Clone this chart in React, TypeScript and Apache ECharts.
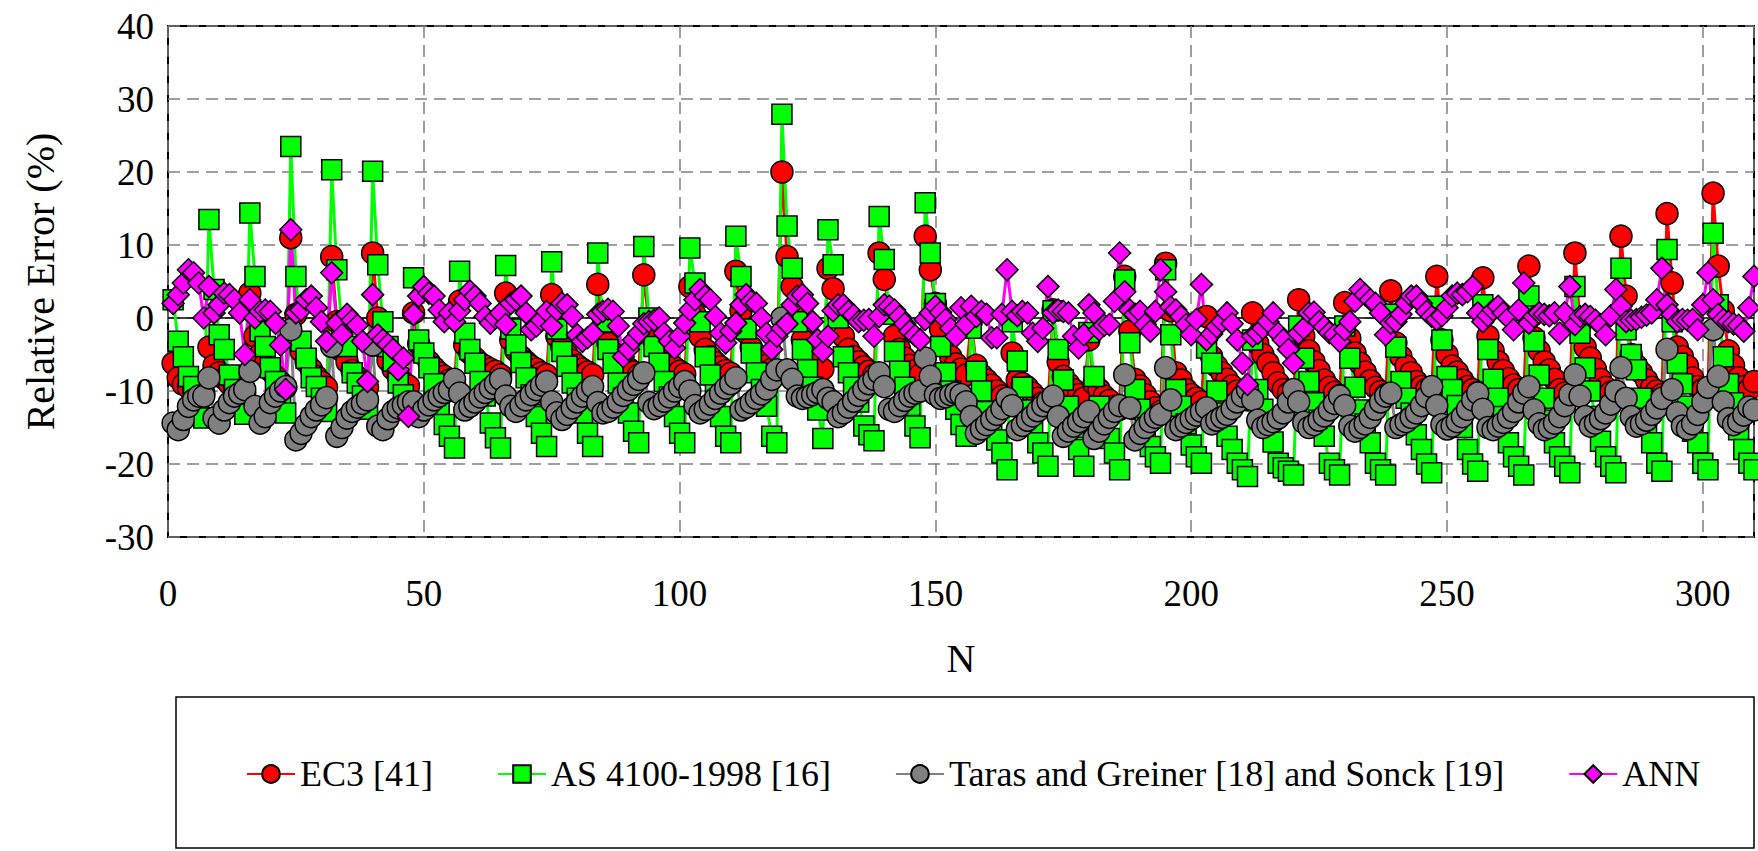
import React, { useEffect, useRef } from "react";
import * as echarts from "echarts";

// Relative error (%) per specimen N = 1..310
const ec3: number[] = [
  -6.2, -8.2, -9.1, -9.5, -9.8, -10.0, -10.3,
  -4.0, -6.5, -7.5, -8.3, -9.0, -9.5, -9.8, -10.2,
  3.4, -2.5, -5.0, -6.3, -7.2, -8.0, -8.8, -9.5,
  11.0, 0.5, -4.5, -6.0, -7.0, -8.0, -8.8, -9.5,
  8.4, -0.5, -4.5, -6.0, -7.2, -8.1, -8.8, -9.5,
  8.9, 0.0, -4.0, -5.8, -7.0, -8.0, -8.8, -9.3,
  0.7, -3.5, -5.0, -6.0, -6.8, -7.5, -8.0, -8.5, -9.0,
  2.3, -3.7, -4.8, -5.5, -6.2, -6.6, -7.0, -7.3, -7.8,
  3.4, -3.0, -4.5, -5.3, -6.0, -6.6, -7.0, -7.5, -7.8,
  3.2, -2.5, -4.0, -5.0, -5.8, -6.5, -7.0, -7.4, -7.8,
  4.6, -1.5, -3.5, -4.8, -5.6, -6.3, -6.9, -7.4, -7.8,
  5.9, -1.0, -3.2, -4.5, -5.5, -6.2, -6.8, -7.3, -7.7,
  4.3, 0.5, -2.5, -4.3, -5.3, -6.1, -6.7, -7.2, -7.6,
  6.4, 1.0, -2.0, -4.0, -5.0, -5.8, -6.5, -7.0, -7.5,
  20.0, 8.4, 4.3, 0.0, -3.0, -4.5, -5.5, -6.3, -7.0,
  6.8, 4.0, 0.5, -2.5, -4.3, -5.3, -6.0, -6.7, -7.3, -7.8,
  8.9, 5.3, 1.0, -2.5, -4.3, -5.5, -6.5, -7.2, -7.8,
  11.2, 6.6, 2.0, -1.5, -4.0, -5.3, -6.3, -7.0, -7.8,
  -0.5, -6.5, -7.8, -8.5, -9.2, -10.0, -10.7, -11.3,
  -4.8, -8.5, -9.0, -9.5, -10.3, -11.0, -11.6, -12.1,
  1.1, -6.0, -8.0, -9.0, -9.8, -10.5, -11.0,
  -3.0, -9.0, -9.8, -10.7, -11.3, -12.1, -12.5,
  5.7, -1.8, -8.4, -9.3, -10.5, -11.5, -12.3, -12.8,
  7.5, 1.0, -7.5, -8.5, -9.8, -10.5, -11.0, -11.5,
  0.2, -5.3, -6.6, -7.5, -8.4, -9.3, -10.0, -10.7, -11.2,
  0.7, -3.5, -5.0, -6.2, -7.5, -8.9, -9.8, -10.3, -10.8,
  2.5, -2.5, -4.5, -6.0, -7.2, -8.5, -9.5, -10.2, -10.6,
  2.1, -2.8, -4.8, -6.2, -7.4, -8.6, -9.5, -10.1, -10.5,
  3.7, -3.4, -5.3, -6.6, -7.5, -8.7, -9.4, -9.8, -10.2,
  5.7, -3.0, -5.0, -6.6, -7.4, -8.5, -9.4, -9.8, -10.2,
  5.5, -2.5, -4.5, -6.0, -7.2, -8.3, -9.2, -9.8, -10.3,
  7.1, -2.7, -4.5, -6.0, -7.1, -8.4, -9.8, -10.3, -10.7,
  8.9, -1.0, -4.0, -5.5, -7.0, -8.4, -9.5, -10.2, -10.6,
  11.2, 3.0, -5.0, -6.5, -7.5, -8.5, -9.5, -10.0, -10.5,
  14.3, 4.8, -4.0, -5.3, -6.6, -8.2, -9.4, -9.8, -10.2,
  17.1, 7.1, 1.0, -4.5, -6.5, -8.2, -9.4, -9.8, -8.7,
];

const as4100: number[] = [
  2.5, -3.2, -5.3, -8.0, -9.4, -11.5, -13.7,
  13.5, 3.9, -2.3, -4.3, -7.8, -9.8, -11.5, -13.2,
  14.4, 5.7, -1.8, -3.9, -6.8, -8.7, -11.0, -13.0,
  23.5, 5.7, -3.2, -5.5, -8.2, -9.4, -11.0, -12.8,
  20.3, 6.6, -1.0, -3.9, -7.5, -8.9, -10.7, -12.5,
  20.1, 7.3, -0.5, -3.9, -5.9, -8.9, -10.5, -12.6,
  5.5, -3.0, -4.8, -6.8, -9.0, -12.1, -14.6, -16.2, -17.8,
  6.4, -2.1, -4.3, -6.2, -8.7, -10.7, -14.4, -16.4, -17.8,
  7.2, -1.5, -3.7, -6.1, -8.2, -10.5, -13.5, -15.8, -17.6,
  7.7, -1.5, -4.6, -6.6, -8.9, -11.0, -13.0, -15.8, -17.6,
  8.9, -0.5, -4.3, -6.2, -8.9, -11.0, -13.0, -15.5, -17.1,
  9.8, 0.0, -3.9, -6.2, -8.7, -10.8, -13.5, -15.8, -17.1,
  9.6, 4.8, -0.5, -5.3, -7.8, -10.5, -13.5, -16.2, -17.1,
  11.2, 5.7, -1.5, -4.8, -7.5, -9.8, -12.1, -16.2, -17.1,
  27.9, 12.6, 6.8, -0.5, -4.3, -7.1, -9.5, -12.6, -16.5,
  12.1, 7.3, 0.0, -5.3, -7.5, -9.5, -11.5, -14.8, -16.0, -16.8,
  13.9, 8.0, 0.5, -4.6, -7.3, -9.5, -12.0, -14.8, -16.4,
  15.8, 8.9, 2.0, -3.9, -7.5, -10.0, -12.5, -14.6, -16.2,
  -1.4, -7.3, -10.0, -12.8, -14.8, -16.7, -18.5, -20.8,
  -0.5, -5.9, -9.5, -12.6, -14.5, -17.1, -18.5, -20.3,
  1.0, -4.3, -8.5, -12.1, -15.0, -18.0, -20.3,
  -2.0, -8.0, -12.1, -14.5, -16.5, -18.5, -20.8,
  5.2, -3.4, -9.8, -12.5, -15.0, -17.6, -19.0, -19.9,
  6.6, -2.3, -9.8, -12.1, -14.5, -17.4, -19.0, -19.9,
  -4.1, -6.2, -10.0, -13.0, -16.2, -18.0, -19.9, -20.8, -21.7,
  -3.0, -9.8, -12.5, -14.3, -17.0, -19.9, -20.5, -21.0, -21.5,
  -1.1, -5.5, -8.7, -11.6, -14.0, -16.2, -19.9, -20.8, -21.5,
  -1.1, -5.5, -9.5, -12.6, -14.5, -17.1, -19.9, -20.8, -21.5,
  0.5, -4.0, -8.7, -11.0, -13.0, -16.0, -18.0, -20.0, -21.2,
  1.6, -3.0, -8.0, -9.8, -12.0, -15.0, -18.0, -20.0, -21.0,
  1.8, -4.3, -8.4, -11.0, -13.5, -17.1, -19.0, -20.3, -21.5,
  3.0, -3.2, -7.8, -11.0, -14.0, -17.1, -19.0, -20.3, -21.2,
  4.3, -2.1, -6.8, -10.0, -13.5, -16.9, -19.0, -20.3, -21.2,
  6.8, -1.6, -5.0, -7.1, -11.0, -14.5, -17.1, -19.9, -21.0,
  9.4, -0.5, -6.2, -9.0, -12.1, -15.5, -17.1, -19.9, -20.8,
  11.6, 1.8, -5.3, -9.0, -11.6, -15.3, -18.0, -19.9, -20.8,
];

const taras: number[] = [
  -14.4, -15.3, -13.9, -12.1, -11.2, -10.7, -10.7,
  -8.2, -13.7, -14.4, -12.6, -11.6, -10.7, -10.3, -9.8,
  -7.3, -12.1, -14.4, -13.5, -11.6, -10.7, -10.0, -9.4,
  -1.6, -16.7, -15.8, -14.6, -13.5, -12.6, -11.9, -10.9,
  -3.9, -16.2, -15.0, -13.7, -12.8, -12.2, -11.7, -11.2,
  -3.7, -14.8, -15.3, -13.8, -12.8, -12.3, -11.9, -11.5,
  -11.5, -13.5, -12.6, -11.9, -11.2, -10.7, -10.2, -9.8, -8.4,
  -10.3, -12.6, -12.1, -11.5, -10.8, -10.2, -9.6, -9.0, -8.4,
  -10.7, -12.1, -12.8, -12.0, -11.2, -10.5, -9.8, -9.2, -8.7,
  -11.5, -13.0, -13.9, -13.2, -12.3, -11.5, -10.7, -10.0, -9.4,
  -11.6, -13.0, -12.8, -12.2, -11.5, -10.6, -9.8, -9.1, -8.4,
  -7.5, -11.6, -12.4, -12.0, -11.4, -10.8, -10.0, -9.4, -8.7,
  -10.0, -12.0, -13.0, -12.5, -11.8, -11.0, -10.3, -9.6, -9.0,
  -8.2, -12.6, -12.2, -11.6, -11.0, -10.4, -9.7, -8.4, -7.1,
  0.0, -7.1, -8.4, -10.7, -11.0, -10.8, -10.5, -10.2, -9.8,
  -11.0, -11.5, -13.5, -13.0, -12.2, -11.4, -10.6, -9.8, -9.0, -8.4,
  -7.5, -9.4, -12.5, -12.8, -12.0, -11.3, -10.7, -10.3, -10.0,
  -5.5, -8.0, -10.5, -11.0, -10.8, -10.5, -10.3, -10.5, -11.5,
  -13.5, -15.8, -15.2, -14.6, -13.9, -13.2, -12.4, -11.0,
  -12.0, -15.3, -14.7, -14.0, -13.4, -12.7, -12.0, -11.4,
  -10.7, -13.5, -16.2, -15.5, -14.8, -14.2, -13.5,
  -12.8, -16.5, -15.5, -14.5, -13.6, -12.8, -12.0,
  -7.8, -12.3, -16.7, -15.8, -15.0, -14.2, -13.6, -13.2,
  -6.8, -11.2, -15.3, -14.8, -14.3, -13.8, -13.3, -12.8,
  -12.3, -14.5, -14.0, -13.6, -13.2, -12.4, -11.5, -10.7, -9.8,
  -11.2, -14.0, -15.0, -14.6, -14.2, -13.7, -13.0, -11.5, -9.8,
  -11.5, -14.3, -15.0, -14.6, -14.0, -13.4, -12.6, -11.7, -10.7,
  -12.0, -14.8, -15.5, -15.0, -14.5, -13.6, -12.5, -11.5, -10.7,
  -10.3, -15.0, -14.6, -14.2, -13.6, -13.0, -12.0, -10.8, -9.4,
  -12.0, -14.6, -15.2, -14.8, -14.2, -13.5, -12.5, -11.2, -10.3,
  -12.5, -15.0, -15.3, -14.8, -14.3, -13.6, -12.8, -11.5, -10.3,
  -9.4, -12.6, -14.5, -15.3, -15.0, -14.4, -13.5, -12.0, -10.5,
  -7.8, -10.7, -13.5, -14.8, -14.4, -13.8, -13.0, -11.8, -10.0,
  -6.8, -11.0, -13.5, -14.8, -14.5, -14.0, -13.2, -12.3, -11.0,
  -4.3, -9.8, -13.0, -14.8, -15.2, -14.5, -13.2, -11.5, -9.5,
  -1.6, -8.0, -11.5, -13.8, -14.6, -14.2, -13.3, -12.2, -12.6,
];

const ann: number[] = [
  2.0, 3.2, 4.8, 6.6, 6.2, 4.8, 0.0,
  4.3, 0.7, 1.8, 3.4, 3.2, 2.5, 0.7, -5.0,
  2.5, 0.0, 0.9, 1.1, 0.9, -0.7, -3.7, -9.8,
  12.1, 0.7, 1.1, 2.5, 3.0, 1.4, -0.5, -3.2,
  6.2, -0.7, -2.3, 0.5, -0.3, -1.0, -3.2, -8.7,
  3.2, -2.3, -3.0, -3.6, -4.3, -7.1, -5.5, -13.5,
  0.5, 3.0, 4.3, 3.4, 3.0, 1.1, -0.5, 0.7, -0.5,
  1.0, 2.5, 3.7, 3.0, 2.0, 0.2, -0.7, 0.0, 0.7,
  -0.9, 2.0, 2.5, 3.0, 0.7, -1.6, -1.1, -0.3, 0.9,
  -1.1, 1.1, 2.0, 1.8, 0.2, -2.3, -3.2, -2.7, -2.1,
  0.5, 0.9, 1.2, 0.9, -1.1, -5.3, -4.3, -3.0, -2.1,
  -0.8, -0.5, -0.3, 0.0, -2.1, -3.2, -4.1, -2.5, -0.7,
  1.1, 2.5, 3.9, 3.0, 2.5, 0.2, -2.1, -3.4, -1.8,
  -0.7, 1.8, 3.2, 2.3, 2.0, 0.0, -2.1, -4.3, -2.5,
  -1.4, -0.8, 1.8, 3.0, 3.2, 2.0, -0.5, -3.0, -4.6,
  -2.5, 1.0, 1.8, 1.8, 0.9, 0.4, -0.5, -0.3, -0.2, -2.5,
  0.2, 1.8, 1.6, 1.1, 0.2, -0.8, -1.8, -2.4, -3.0,
  -0.2, 0.7, 1.6, 0.8, -0.2, -1.4, -2.5, 1.4, -0.9,
  1.6, 0.2, 0.9, 0.5, -2.7, -2.7, 0.5, 6.6,
  0.9, 0.3, 0.9, 0.7, -2.1, -3.2, -1.4, 4.3,
  0.7, 1.1, 0.9, 0.7, -2.5, -4.1, -2.3,
  1.8, 0.7, -1.6, -1.0, -0.9, 2.3, 8.9,
  3.6, 1.1, 0.5, 0.9, -0.9, -1.8, 0.9, 6.6,
  3.6, 1.5, 1.1, 0.2, -0.9, -2.3, -0.2, 4.6,
  -3.0, -2.2, -1.2, -0.5, 0.7, -0.8, -3.0, -6.2, -9.1,
  -2.5, -2.1, -1.4, -0.5, 0.7, -2.1, -3.0, -4.3, -6.2,
  -2.1, -1.4, 0.7, 0.8, -0.5, -1.2, -2.0, -2.3, -3.2,
  -1.6, -0.5, 2.3, 3.9, 3.2, 2.5, 2.0, 0.7, -2.3,
  -0.7, -0.5, 0.5, 2.0, 3.0, 3.0, 2.0, 0.9, 0.2,
  -0.2, 0.3, 1.4, 3.0, 3.4, 3.2, 3.6, 4.3, 0.7,
  -0.5, 0.3, 1.1, 1.6, 0.7, 0.0, -1.6, 1.1, 4.8,
  -0.7, 0.2, 0.7, 0.5, 0.3, 0.7, -2.1, 0.7, 4.3,
  -0.9, 0.2, 0.5, 0.2, -0.3, -0.9, -2.3, 0.3, 3.9,
  1.6, -0.5, -0.3, -0.2, 0.1, 0.4, 0.7, 2.5, 6.8,
  1.8, 0.5, -0.5, -0.2, -0.3, -0.2, -1.6, 1.8, 6.2,
  2.5, 0.5, -0.2, -0.5, -0.8, -1.0, -1.8, 1.4, 5.7,
];

const seriesNames = [
  "EC3 [41]",
  "AS 4100-1998 [16]",
  "Taras and Greiner [18] and Sonck [19]",
  "ANN",
];
const xTicks = [0, 50, 100, 150, 200, 250, 300];
const yTicks = [-30, -20, -10, 0, 10, 20, 30, 40];

const FONT = "'Liberation Serif', 'Times New Roman', serif";

const toPoints = (arr: number[]) => arr.map((v, i) => [i + 1, v]);

export default function App() {
  const ref = useRef<HTMLDivElement>(null);
  useEffect(() => {
    if (!ref.current) return;
    const chart = echarts.init(ref.current, undefined, { renderer: "svg" });
    const mk = (
      name: string,
      arr: number[],
      color: string,
      symbol: string,
      size: number
    ) => ({
      name,
      type: "line",
      data: toPoints(arr),
      symbol,
      symbolSize: size,
      showAllSymbol: true,
      lineStyle: { color, width: 3 },
      itemStyle: { color, borderColor: "#000", borderWidth: 1.5 },
      emphasis: { disabled: true },
    });
    chart.setOption({
      animation: false,
      textStyle: { fontFamily: FONT },
      grid: {
        left: 168,
        right: 4,
        top: 26,
        height: 511,
        show: true,
        borderColor: "#000",
        borderWidth: 2,
        backgroundColor: "transparent",
      },
      xAxis: {
        type: "value",
        min: 0,
        max: 310,
        interval: 50,
        name: "N",
        nameLocation: "middle",
        nameGap: 101,
        nameTextStyle: { fontSize: 40, color: "#000", fontFamily: FONT },
        axisLine: { show: false },
        axisTick: { show: false },
        axisLabel: {
          fontSize: 37,
          color: "#000",
          fontFamily: FONT,
          margin: 38,
          showMaxLabel: false,
          formatter: (v: number) => (xTicks.includes(v) ? String(v) : ""),
        },
        splitLine: {
          show: true,
          lineStyle: { color: "#808080", type: [12, 7], width: 1.5 },
        },
      },
      yAxis: {
        type: "value",
        min: -30,
        max: 40,
        interval: 10,
        name: "Relative Error (%)",
        nameLocation: "middle",
        nameGap: 108,
        nameRotate: 90,
        nameTextStyle: { fontSize: 40, color: "#000", fontFamily: FONT },
        axisLine: { show: false },
        axisTick: { show: false },
        axisLabel: {
          fontSize: 37,
          color: "#000",
          fontFamily: FONT,
          margin: 14,
          formatter: (v: number) => (yTicks.includes(v) ? String(v) : ""),
        },
        splitLine: {
          show: true,
          lineStyle: { color: "#808080", type: [12, 7], width: 1.5 },
        },
      },
      legend: {
        data: seriesNames,
        left: 241,
        top: 751,
        itemGap: 64,
        itemWidth: 48,
        itemHeight: 22,
        textStyle: { fontSize: 36, color: "#000", fontFamily: FONT },
      },
      graphic: [
        {
          type: "rect",
          shape: { x: 176, y: 697, width: 1578, height: 151 },
          style: { fill: "none", stroke: "#000", lineWidth: 1.5 },
          silent: true,
        },
      ],
      series: [
        {
          name: "zero",
          type: "line",
          data: [
            [0, 0],
            [310, 0],
          ],
          symbol: "none",
          lineStyle: { color: "#000", width: 1.5 },
          silent: true,
          z: 1,
        },
        mk(seriesNames[0], ec3, "#ff0000", "circle", 22),
        mk(seriesNames[1], as4100, "#00ff00", "rect", 20),
        mk(seriesNames[2], taras, "#808080", "circle", 22),
        mk(seriesNames[3], ann, "#ff00ff", "diamond", 22),
      ],
    });
    return () => chart.dispose();
  }, []);
  return (
    <div
      ref={ref}
      style={{ position: "fixed", left: 0, top: 0, width: 1758, height: 851, background: "#fff" }}
    />
  );
}
